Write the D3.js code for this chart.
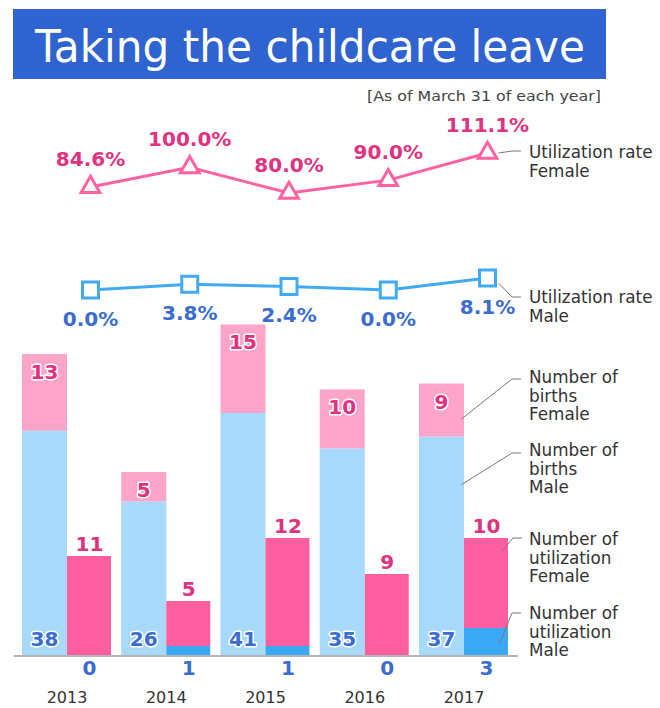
<!DOCTYPE html>
<html>
<head>
<meta charset="utf-8">
<script src="https://cdn.jsdelivr.net/npm/d3@7/dist/d3.min.js"></script>
<style>
  body { margin: 0; background: #fff; }
  svg { display: block; font-family: "DejaVu Sans", Verdana, sans-serif; }
</style>
</head>
<body>
<div id="chart"></div>
<script>
// data
var years = ["2013", "2014", "2015", "2016", "2017"];
var birthsMale = [38, 26, 41, 35, 37];
var birthsFemale = [13, 5, 15, 10, 9];
var utilFemale = [11, 5, 12, 9, 10];
var utilMale = [0, 1, 1, 0, 3];
var rateFemale = [84.6, 100.0, 80.0, 90.0, 111.1];
var rateMale = [0.0, 3.8, 2.4, 0.0, 8.1];

var width = 660, height = 708;
var baseY = 655, barW = 45;

var colors = {
  title: "#2f63d0",
  birthsFemale: "#fda5c9",
  birthsMale: "#a7d9fb",
  utilFemale: "#ff5f9e",
  utilMale: "#3aa8f5",
  lineFemale: "#ff62a1",
  lineMale: "#41aaf5",
  textPink: "#e0327f",
  textBlue: "#3a6dd2",
  legend: "#333"
};

var svg = d3.select("#chart").append("svg")
  .attr("width", width)
  .attr("height", height);

// scales
var x = d3.scalePoint().domain(years).range([67, 464]);
var yBirth = d3.scaleLinear().domain([0, 51]).range([baseY, 354]);
var yUtil = d3.scaleLinear().domain([0, 11]).range([baseY, 556]);
var yRateF = d3.scaleLinear().domain([80, 111.1]).range([193, 153]);
var yRateM = d3.scaleLinear().domain([0, 8.1]).range([290, 278]);

var rows = years.map(function (y, i) {
  return {
    year: y,
    bm: birthsMale[i], bf: birthsFemale[i],
    uf: utilFemale[i], um: utilMale[i],
    rf: rateFemale[i], rm: rateMale[i]
  };
});

// title
svg.append("rect")
  .attr("x", 13).attr("y", 9)
  .attr("width", 593).attr("height", 70)
  .attr("fill", colors.title);

svg.append("text")
  .attr("x", 310).attr("y", 62)
  .attr("text-anchor", "middle")
  .attr("fill", "#fff")
  .attr("font-size", 45)
  .attr("textLength", 550)
  .attr("lengthAdjust", "spacingAndGlyphs")
  .text("Taking the childcare leave");

svg.append("text")
  .attr("x", 601).attr("y", 101)
  .attr("text-anchor", "end")
  .attr("fill", "#444")
  .attr("font-size", 14)
  .attr("textLength", 234)
  .attr("lengthAdjust", "spacingAndGlyphs")
  .text("[As of March 31 of each year]");

// bars
var bars = svg.append("g");

bars.selectAll(".bm").data(rows).enter().append("rect")
  .attr("x", function (d) { return x(d.year) - barW; })
  .attr("y", function (d) { return yBirth(d.bm); })
  .attr("width", barW)
  .attr("height", function (d) { return baseY - yBirth(d.bm); })
  .attr("fill", colors.birthsMale);

bars.selectAll(".bf").data(rows).enter().append("rect")
  .attr("x", function (d) { return x(d.year) - barW; })
  .attr("y", function (d) { return yBirth(d.bm + d.bf); })
  .attr("width", barW)
  .attr("height", function (d) { return yBirth(d.bm) - yBirth(d.bm + d.bf); })
  .attr("fill", colors.birthsFemale);

bars.selectAll(".um").data(rows).enter().append("rect")
  .attr("x", function (d) { return x(d.year); })
  .attr("y", function (d) { return yUtil(d.um); })
  .attr("width", barW - 1)
  .attr("height", function (d) { return baseY - yUtil(d.um); })
  .attr("fill", colors.utilMale);

bars.selectAll(".uf").data(rows).enter().append("rect")
  .attr("x", function (d) { return x(d.year); })
  .attr("y", function (d) { return yUtil(d.um + d.uf); })
  .attr("width", barW - 1)
  .attr("height", function (d) { return yUtil(d.um) - yUtil(d.um + d.uf); })
  .attr("fill", colors.utilFemale);

// axis line
svg.append("line")
  .attr("x1", 14).attr("x2", 518)
  .attr("y1", baseY + 1).attr("y2", baseY + 1)
  .attr("stroke", "#b5b5b5")
  .attr("stroke-width", 2);

// year labels
svg.selectAll(".year").data(rows).enter().append("text")
  .attr("x", function (d) { return x(d.year); })
  .attr("y", 703)
  .attr("text-anchor", "middle")
  .attr("font-size", 16)
  .attr("fill", "#333")
  .text(function (d) { return d.year; });

// value labels on bars
function valueLabel(sel, color) {
  return sel.attr("text-anchor", "middle")
    .attr("font-size", 20)
    .attr("font-weight", "bold")
    .attr("fill", color)
    .attr("stroke", "#fff")
    .attr("stroke-width", 3)
    .attr("stroke-linejoin", "round")
    .attr("paint-order", "stroke");
}

valueLabel(svg.selectAll(".lbf").data(rows).enter().append("text"), colors.textPink)
  .attr("x", function (d) { return x(d.year) - barW / 2; })
  .attr("y", function (d) { return yBirth(d.bm + d.bf) + 25; })
  .text(function (d) { return d.bf; });

valueLabel(svg.selectAll(".lbm").data(rows).enter().append("text"), colors.textBlue)
  .attr("x", function (d) { return x(d.year) - barW / 2; })
  .attr("y", baseY - 9)
  .text(function (d) { return d.bm; });

valueLabel(svg.selectAll(".luf").data(rows).enter().append("text"), colors.textPink)
  .attr("x", function (d) { return x(d.year) + barW / 2; })
  .attr("y", function (d) { return yUtil(d.um + d.uf) - 5; })
  .text(function (d) { return d.uf; });

valueLabel(svg.selectAll(".lum").data(rows).enter().append("text"), colors.textBlue)
  .attr("x", function (d) { return x(d.year) + barW / 2; })
  .attr("y", 675)
  .text(function (d) { return d.um; });

// rate lines
var mx = function (d) { return x(d.year) + barW / 2 + 1; };

var lineF = d3.line().x(mx).y(function (d) { return yRateF(d.rf); });
var lineM = d3.line().x(mx).y(function (d) { return yRateM(d.rm); });

svg.append("path").datum(rows)
  .attr("d", lineF)
  .attr("fill", "none")
  .attr("stroke", colors.lineFemale)
  .attr("stroke-width", 3);

svg.append("path").datum(rows)
  .attr("d", lineM)
  .attr("fill", "none")
  .attr("stroke", colors.lineMale)
  .attr("stroke-width", 3);

svg.selectAll(".tri").data(rows).enter().append("path")
  .attr("transform", function (d) { return "translate(" + [mx(d), yRateF(d.rf)] + ")"; })
  .attr("d", d3.symbol().type(d3.symbolTriangle).size(150))
  .attr("fill", "#fff")
  .attr("stroke", colors.lineFemale)
  .attr("stroke-width", 3);

svg.selectAll(".sq").data(rows).enter().append("path")
  .attr("transform", function (d) { return "translate(" + [mx(d), yRateM(d.rm)] + ")"; })
  .attr("d", d3.symbol().type(d3.symbolSquare).size(256))
  .attr("fill", "#fff")
  .attr("stroke", colors.lineMale)
  .attr("stroke-width", 3);

valueLabel(svg.selectAll(".lrf").data(rows).enter().append("text"), colors.textPink)
  .attr("x", mx)
  .attr("y", function (d) { return yRateF(d.rf) - 21; })
  .text(function (d) { return d.rf.toFixed(1) + "%"; });

valueLabel(svg.selectAll(".lrm").data(rows).enter().append("text"), colors.textBlue)
  .attr("x", mx)
  .attr("y", function (d) { return yRateM(d.rm) + 36; })
  .text(function (d) { return d.rm.toFixed(1) + "%"; });

// legend callouts, anchored on the 2017 marks
var last = rows[rows.length - 1];
var lx = mx(last);
var bx = x(last.year) - barW / 2;
var legend = [
  { lines: ["Utilization rate", "Female"], y: 158,
    from: [lx + 11, yRateF(last.rf)], to: [512, 151] },
  { lines: ["Utilization rate", "Male"], y: 303,
    from: [lx + 11, yRateM(last.rm) + 5], to: [512, 297] },
  { lines: ["Number of", "births", "Female"], y: 383,
    from: [bx + 20, yBirth(last.bm + last.bf / 3)], to: [512, 379] },
  { lines: ["Number of", "births", "Male"], y: 456,
    from: [bx + 20, yBirth(last.bm * 0.78)], to: [512, 453] },
  { lines: ["Number of", "utilization", "Female"], y: 545,
    from: [lx + 14, yUtil(last.um + last.uf * 0.85)], to: [513, 538] },
  { lines: ["Number of", "utilization", "Male"], y: 619,
    from: [lx + 12, yUtil(last.um * 0.4)], to: [512, 613] }
];

var lg = svg.append("g");

legend.forEach(function (item) {
  lg.append("polyline")
    .attr("points", [item.from, item.to, [item.to[0] + 9, item.to[1]]].map(function (p) { return p.join(","); }).join(" "))
    .attr("fill", "none")
    .attr("stroke", "#777")
    .attr("stroke-width", 1);

  var t = lg.append("text")
    .attr("x", 529)
    .attr("y", item.y)
    .attr("font-size", 16.8)
    .attr("fill", colors.legend);

  item.lines.forEach(function (s, i) {
    t.append("tspan")
      .attr("x", 529)
      .attr("dy", i === 0 ? 0 : 18.5)
      .text(s);
  });
});
</script>
</body>
</html>
